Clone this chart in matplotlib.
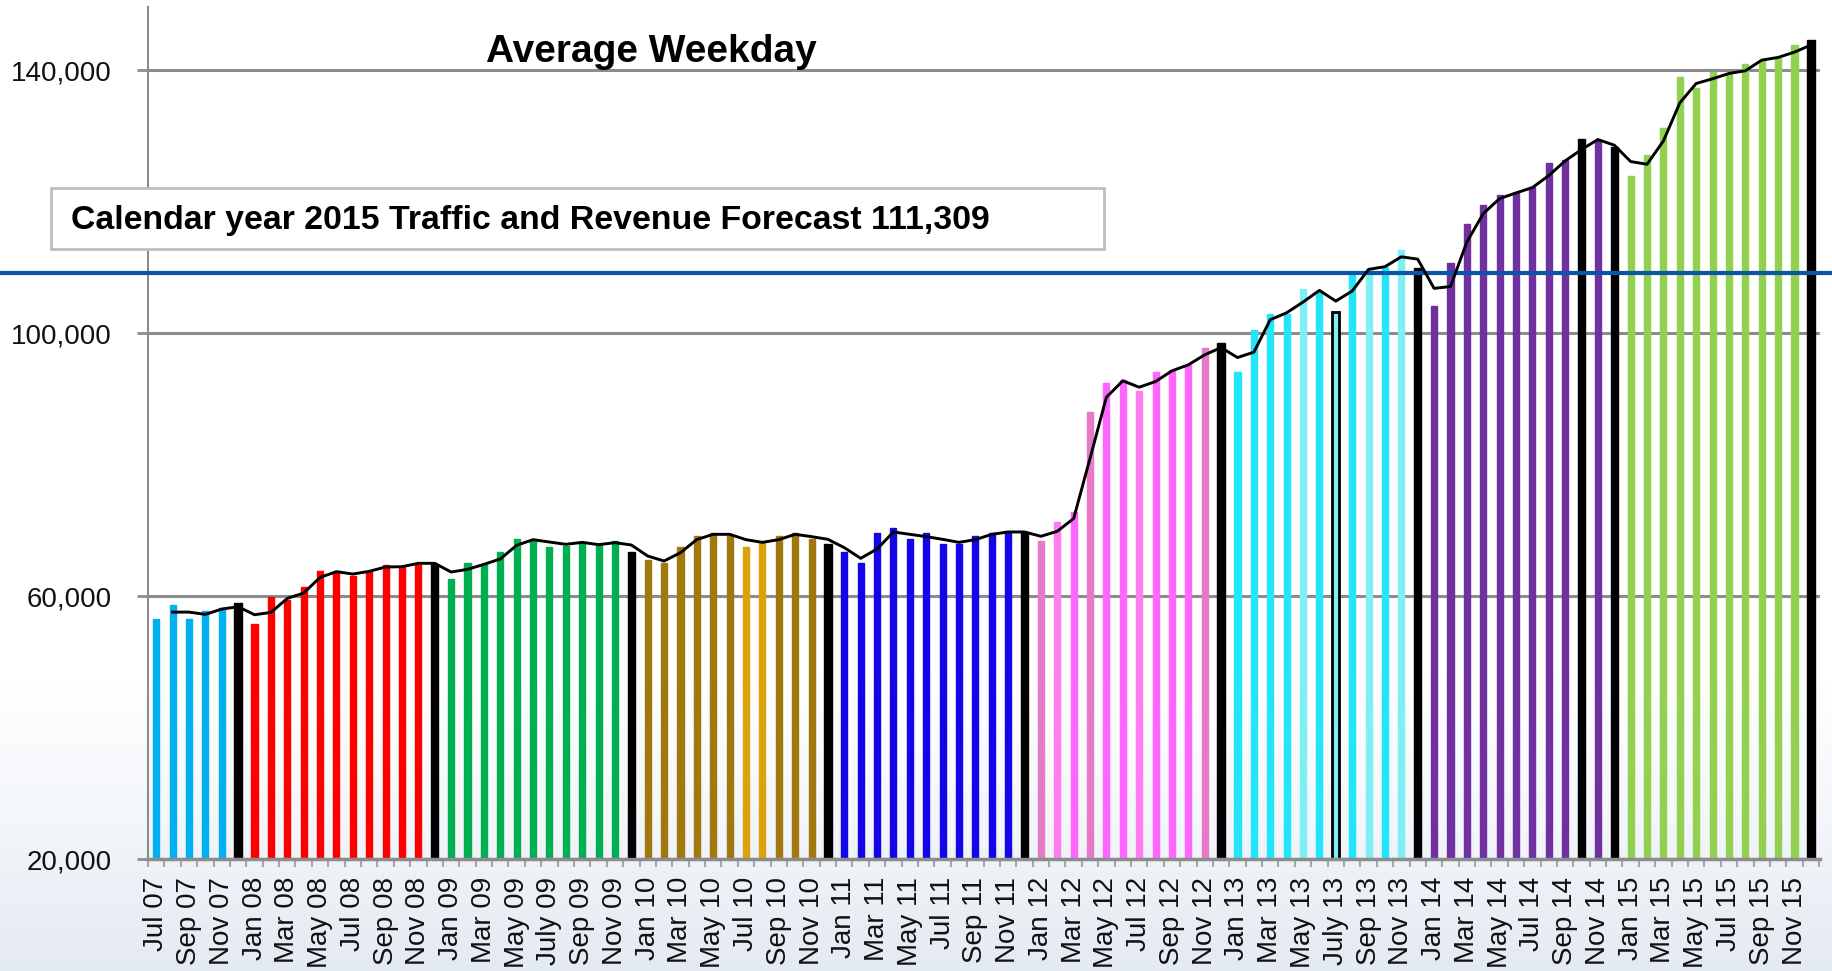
import numpy as np
import pandas as pd
import matplotlib
matplotlib.use("Agg")
import matplotlib.pyplot as plt
from matplotlib.patches import Rectangle
from matplotlib.colors import LinearSegmentedColormap

plt.rcParams['font.family'] = ['Liberation Sans', 'DejaVu Sans']

# ---- data ----
months = pd.period_range('2007-07', '2015-12', freq='M')

weekday_2007 = [56500, 58630, 56500, 57720, 58120, 58930]
weekday_2008 = [55740, 59850, 59440, 61370, 63810, 63500, 63100, 63610, 64730, 64420, 64730, 64930]
weekday_2009 = [62590, 65030, 64830, 66700, 68680, 68480, 67460, 67660, 68070, 67770, 68380, 66700]
weekday_2010 = [65480, 65070, 67460, 69140, 69540, 69140, 67460, 68020, 69140, 69540, 68680, 67970]
weekday_2011 = [66700, 65070, 69590, 70350, 68680, 69590, 67970, 67970, 69140, 69590, 69690, 69790]
weekday_2012 = [68380, 71200, 72850, 88060, 92480, 92840, 91260, 94110, 94360, 95220, 97760, 98520]
weekday_2013 = [94110, 100500, 102940, 102940, 106640, 106240, 103240, 108880, 109690, 110050, 112690, 109850]
weekday_2014 = [104050, 110600, 116550, 119440, 120960, 121320, 122230, 125840, 126290, 129490, 129240, 128320]
weekday_2015 = [123860, 127050, 131220, 138930, 137260, 139750, 139340, 140910, 141420, 141780, 143810, 144570]

# 2 month moving average trendline as drawn
trend = [np.nan, 57560, 57560, 57210, 58020, 58380,
         57160, 57510, 59640, 60460, 62840, 63710, 63350, 63760, 64420, 64470, 64980, 64980,
         63660, 64060, 64820, 65640, 67720, 68580, 68220, 67870, 68170, 67820, 68120, 67770,
         66090, 65330, 66600, 68600, 69390, 69390, 68580, 68170, 68580, 69390, 69040, 68630,
         67360, 65740, 67160, 69750, 69390, 69040, 68630, 68170, 68580, 69390, 69750, 69750,
         69090, 69850, 71800, 80960, 90250, 92740, 91770, 92630, 94260, 95170, 96700, 97800,
         96280, 97100, 102030, 103090, 104720, 106490, 104870, 106390, 109690, 110100, 111600, 111250,
         106800, 107080, 113850, 118170, 120460, 121320, 122130, 123960, 126190, 127920, 129440, 128580,
         126090, 125680, 129240, 135020, 137970, 138680, 139490, 139900, 141520, 141930, 142740, 143810]

forecast_level = 109200
forecast_text = "Calendar year 2015 Traffic and Revenue Forecast 111,309"

tick_labels = ["Jul 07", "Sep 07", "Nov 07",
               "Jan 08", "Mar 08", "May 08", "Jul 08", "Sep 08", "Nov 08",
               "Jan 09", "Mar 09", "May 09", "July 09", "Sep 09", "Nov 09",
               "Jan 10", "Mar 10", "May 10", "Jul 10", "Sep 10", "Nov 10",
               "Jan 11", "Mar 11", "May 11", "Jul 11", "Sep 11", "Nov 11",
               "Jan 12", "Mar 12", "May 12", "Jul 12", "Sep 12", "Nov 12",
               "Jan 13", "Mar 13", "May 13", "July 13", "Sep 13", "Nov 13",
               "Jan 14", "Mar 14", "May 14", "Jul 14", "Sep 14", "Nov 14",
               "Jan 15", "Mar 15", "May 15", "Jul 15", "Sep 15", "Nov 15"]

values = (weekday_2007 + weekday_2008 + weekday_2009 + weekday_2010 + weekday_2011
          + weekday_2012 + weekday_2013 + weekday_2014 + weekday_2015)

# ---- colours ----
year_color = {2007: '#00B0F0', 2008: '#FF0000', 2009: '#00B050', 2010: '#A0780E',
              2011: '#1405E8', 2012: '#FF66FF', 2013: '#22E5FA', 2014: '#7030A0',
              2015: '#92D050'}
special = {'2010-07': '#DBA20E', '2010-08': '#DBA20E',
           '2012-01': '#E779C8', '2012-02': '#FF7DEF', '2012-04': '#E779C8',
           '2012-07': '#FF7DEF', '2012-11': '#E779C8',
           '2013-05': '#7FEEF5', '2013-07': '#7FEEF5', '2013-09': '#7FEEF5', '2013-11': '#7FEEF5',
           '2014-10': '#000000'}
colors, widths, edges, lws = [], [], [], []
for m in months:
    c = special.get(str(m), year_color[m.year])
    if m.month == 12:
        c = '#000000'
    colors.append(c)
    outlined = str(m) == '2013-07'
    widths.append(0.45 if (c == '#000000' or outlined) else 0.37)
    edges.append('#000000' if outlined else c)
    lws.append(2.0 if outlined else 1.0)

fig = plt.figure(figsize=(18.32, 9.71), dpi=100)

# slide background, bluish only near the bottom
bg = fig.add_axes([0, 0, 1, 1], zorder=-10)
grad = np.linspace(0, 1, 256).reshape(-1, 1)
cmap = LinearSegmentedColormap.from_list('bg', ['#E4EAF3', '#F3F6FA', '#FFFFFF'])
bg.imshow(grad, aspect='auto', cmap=cmap, extent=[0, 1, 0, 1], origin='lower', vmin=0, vmax=0.3)
bg.axis('off')

ax = fig.add_axes([0.0808, 0.1153, 0.9126, 0.8775])
ax.patch.set_alpha(0)

x = np.arange(len(values))
ax.bar(x, values, width=widths, color=colors, edgecolor=edges, linewidth=lws, zorder=2)
ax.plot(x, trend, color='black', lw=2.1, zorder=4)
ax.axhline(forecast_level, xmin=-0.09, xmax=1.01, color='#0A55A5', lw=3, zorder=3, clip_on=False)

ax.set_xlim(-0.5, 101.55)
ax.set_ylim(20000, 149600)

gray = '#8C8C8C'
ax.set_yticks([20000, 60000, 100000, 140000])
ax.set_yticklabels(['{:,}'.format(v) for v in [20000, 60000, 100000, 140000]])
ax.yaxis.grid(True, color=gray, lw=2.2)
ax.set_axisbelow(True)
ax.tick_params(axis='y', direction='out', length=8, width=2, color=gray, labelsize=20, pad=18,
               labelcolor='#111111')

ax.set_xticks(x[::2])
ax.set_xticklabels(tick_labels, rotation=90)
ax.set_xticks(np.arange(-0.5, 102, 1), minor=True)
ax.tick_params(axis='x', which='major', length=0, labelsize=20, pad=13, labelcolor='#111111')
ax.tick_params(axis='x', which='minor', direction='out', length=6, width=1.5, color='#A6A6A6')

for s in ['top', 'right']:
    ax.spines[s].set_visible(False)
ax.spines['left'].set_color(gray)
ax.spines['left'].set_linewidth(1.5)
ax.spines['bottom'].set_color(gray)
ax.spines['bottom'].set_linewidth(2.5)

fig.text(0.3553, 1 - 62 / 971, "Average Weekday", fontsize=28, fontweight='bold',
         ha='center', va='baseline')

fig.patches.append(Rectangle((51 / 1832, 1 - 249 / 971), 1053 / 1832, 61 / 971,
                             transform=fig.transFigure, facecolor='white',
                             edgecolor='#BFBFBF', lw=2, zorder=5))
fig.text(71 / 1832, 1 - 229 / 971, forecast_text, fontsize=24.4, fontweight='bold',
         ha='left', va='baseline', zorder=6)

fig.savefig('out.png', dpi=100)
